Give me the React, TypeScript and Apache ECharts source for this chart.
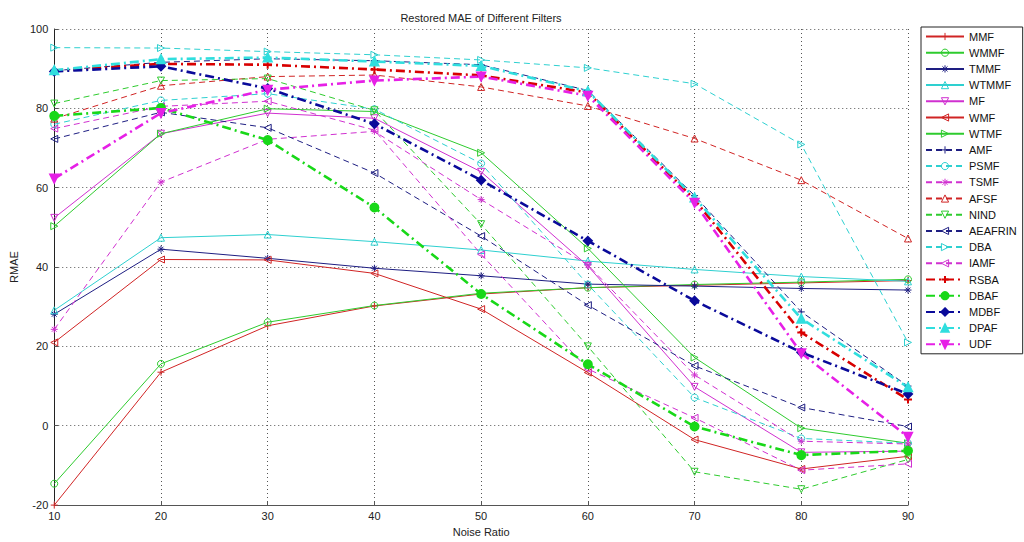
import React, { useEffect, useRef } from "react";
import * as echarts from "echarts";

const noise = [10, 20, 30, 40, 50, 60, 70, 80, 90];
const xTicks = [10, 20, 30, 40, 50, 60, 70, 80, 90];
const yTicks = [-20, 0, 20, 40, 60, 80, 100];

const MMF = [-20, 13.5, 25.2, 30.2, 33.2, 34.8, 35.4, 36.0, 36.6];
const WMMF = [-14.6, 15.6, 26.1, 30.3, 33.4, 34.8, 35.6, 36.2, 36.9];
const TMMF = [28.1, 44.5, 42.2, 39.7, 37.8, 35.7, 35.2, 34.6, 34.2];
const WTMMF = [29.1, 47.4, 48.2, 46.4, 44.3, 41.5, 39.4, 37.6, 36.4];
const MF = [52.4, 73.6, 78.8, 77.5, 64.0, 40.3, 9.8, -6.7, -6.4];
const WMF = [21.0, 41.9, 41.8, 38.4, 29.4, 13.4, -3.5, -10.9, -7.7];
const WTMF = [50.3, 73.6, 79.9, 79.2, 68.8, 44.7, 17.2, -0.6, -4.4];
const AMF = [89.5, 91.6, 92.5, 92.0, 91.0, 84.5, 58.0, 28.7, 10.0];
const PSMF = [76.0, 82.0, 83.7, 79.8, 66.1, 35.6, 7.1, -3.2, -4.4];
const TSMF = [24.3, 61.4, 72.2, 74.2, 57.0, 40.5, 12.8, -3.9, -4.6];
const AFSF = [77.4, 85.7, 88.0, 88.4, 85.4, 80.6, 72.4, 61.9, 47.2];
const NIND = [81.2, 87.0, 87.5, 79.5, 50.8, 20.0, -11.6, -16.0, -8.5];
const AEAFRIN = [72.3, 79.0, 75.1, 63.7, 47.8, 30.4, 15.1, 4.6, -0.2];
const DBA = [95.3, 95.2, 94.3, 93.5, 92.2, 90.2, 86.2, 70.9, 21.0];
const IAMF = [74.9, 80.5, 81.8, 74.5, 43.2, 14.3, 2.0, -11.2, -9.6];
const RSBA = [89.5, 91.2, 91.0, 89.8, 88.3, 84.0, 57.0, 23.5, 6.6];
const DBAF = [78.1, 80.1, 72.0, 55.0, 33.2, 15.5, -0.2, -7.4, -6.3];
const MDBF = [89.3, 90.6, 85.0, 76.1, 61.9, 46.6, 31.5, 18.5, 8.0];
const DPAF = [89.6, 92.4, 92.8, 91.8, 90.7, 84.3, 57.5, 27.0, 9.7];
const UDF = [62.3, 78.8, 84.7, 87.0, 88.0, 83.2, 56.2, 18.3, -2.8];

const RED = "#d02424";
const GREEN = "#2ecb2e";
const NAVY = "#1e1e82";
const CYAN = "#2ed0d0";
const MAG = "#d030d0";

const SYM: Record<string, string> = {
  plus: "path://M5,0L5,10M0,5L10,5",
  star: "path://M5,0L5,10M0,5L10,5M1.5,1.5L8.5,8.5M1.5,8.5L8.5,1.5",
  up: "triangle",
  down: "path://M0,0L10,0L5,9Z",
  left: "path://M10,0L10,10L1,5Z",
  right: "path://M0,0L0,10L9,5Z",
  circle: "circle",
  diamond: "diamond",
};

const DASH = [6, 4];
const DASHDOT = [9, 4, 2, 4];

type Spec = [string, number[], string, string, string, boolean];
// name, data, color, symbol, line style, bold
const specs: Spec[] = [
  ["MMF", MMF, RED, "plus", "solid", false],
  ["WMMF", WMMF, GREEN, "circle", "solid", false],
  ["TMMF", TMMF, NAVY, "star", "solid", false],
  ["WTMMF", WTMMF, CYAN, "up", "solid", false],
  ["MF", MF, MAG, "down", "solid", false],
  ["WMF", WMF, RED, "left", "solid", false],
  ["WTMF", WTMF, GREEN, "right", "solid", false],
  ["AMF", AMF, NAVY, "plus", "dashed", false],
  ["PSMF", PSMF, CYAN, "circle", "dashed", false],
  ["TSMF", TSMF, MAG, "star", "dashed", false],
  ["AFSF", AFSF, RED, "up", "dashed", false],
  ["NIND", NIND, GREEN, "down", "dashed", false],
  ["AEAFRIN", AEAFRIN, NAVY, "left", "dashed", false],
  ["DBA", DBA, CYAN, "right", "dashed", false],
  ["IAMF", IAMF, MAG, "left", "dashed", false],
  ["RSBA", RSBA, "#d80000", "plus", "dashdot", true],
  ["DBAF", DBAF, "#18d818", "circle", "dashdot", true],
  ["MDBF", MDBF, "#0a0a9a", "diamond", "dashdot", true],
  ["DPAF", DPAF, "#30dede", "up", "dashdot", true],
  ["UDF", UDF, "#e620e6", "down", "dashdot", true],
];

const FONT = "'Liberation Sans', Arial, sans-serif";

function itemStyleFor(color: string, sym: string, bold: boolean) {
  const isStroke = sym === "plus" || sym === "star";
  return {
    color: bold && !isStroke ? color : "rgba(255,255,255,0)",
    borderColor: color,
    borderWidth: bold ? 2 : 1,
  };
}

export default function App() {
  const ref = useRef<HTMLDivElement>(null);
  useEffect(() => {
    if (!ref.current) return;
    const chart = echarts.init(ref.current, undefined, { renderer: "svg" });
    const series = specs.map(([name, vals, color, sym, ls, bold]) => ({
      name,
      type: "line",
      data: noise.map((x, i) => [x, vals[i]]),
      symbol: SYM[sym],
      symbolSize: bold ? 8 : 7,
      showSymbol: true,
      lineStyle: {
        color,
        width: bold ? 2.6 : 1,
        type: ls === "solid" ? "solid" : ls === "dashed" ? DASH : DASHDOT,
      },
      itemStyle: itemStyleFor(color, sym, bold),
      emphasis: { disabled: true },
    }));
    chart.setOption({
      animation: false,
      backgroundColor: "#ffffff",
      textStyle: { fontFamily: FONT },
      graphic: [
        {
          type: "text",
          x: 481,
          y: 12,
          style: {
            text: "Restored MAE of Different Filters",
            textAlign: "center",
            font: `11px ${FONT}`,
            fill: "#222",
          },
        },
      ],
      grid: { left: 54, right: 116, top: 29, bottom: 35, containLabel: false },
      legend: {
        orient: "vertical",
        left: 921,
        top: 27,
        itemWidth: 38,
        itemHeight: 9,
        itemGap: 5.2,
        padding: [4, 6, 4, 4],
        borderColor: "#222",
        borderWidth: 1,
        backgroundColor: "#fff",
        textStyle: { fontSize: 11, color: "#111", fontFamily: FONT },
        data: specs.map(([name, , color, sym, , bold]) => ({
          name,
          itemStyle: itemStyleFor(color, sym, bold),
        })),
      },
      xAxis: {
        type: "value",
        min: xTicks[0],
        max: xTicks[xTicks.length - 1],
        interval: 10,
        name: "Noise Ratio",
        nameLocation: "middle",
        nameGap: 20,
        nameTextStyle: { fontSize: 11, color: "#222" },
        axisLine: { onZero: false, lineStyle: { color: "#555", width: 1 } },
        axisTick: { inside: true, length: 4, lineStyle: { color: "#555" } },
        axisLabel: { fontSize: 11, color: "#222", margin: 5 },
        splitLine: { show: true, lineStyle: { color: "#555", type: [1, 3], width: 1 } },
      },
      yAxis: {
        type: "value",
        min: yTicks[0],
        max: yTicks[yTicks.length - 1],
        interval: 20,
        name: "RMAE",
        nameLocation: "middle",
        nameGap: 34,
        nameTextStyle: { fontSize: 11, color: "#222" },
        axisLine: { show: true, onZero: false, lineStyle: { color: "#222", width: 1 } },
        axisTick: { show: true, inside: true, length: 4, lineStyle: { color: "#555" } },
        axisLabel: { fontSize: 11, color: "#222", margin: 6 },
        splitLine: { show: true, lineStyle: { color: "#555", type: [1, 3], width: 1 } },
      },
      series,
    });
    return () => chart.dispose();
  }, []);
  return <div ref={ref} style={{ width: 1024, height: 542, position: "absolute", left: 0, top: 0 }} />;
}
